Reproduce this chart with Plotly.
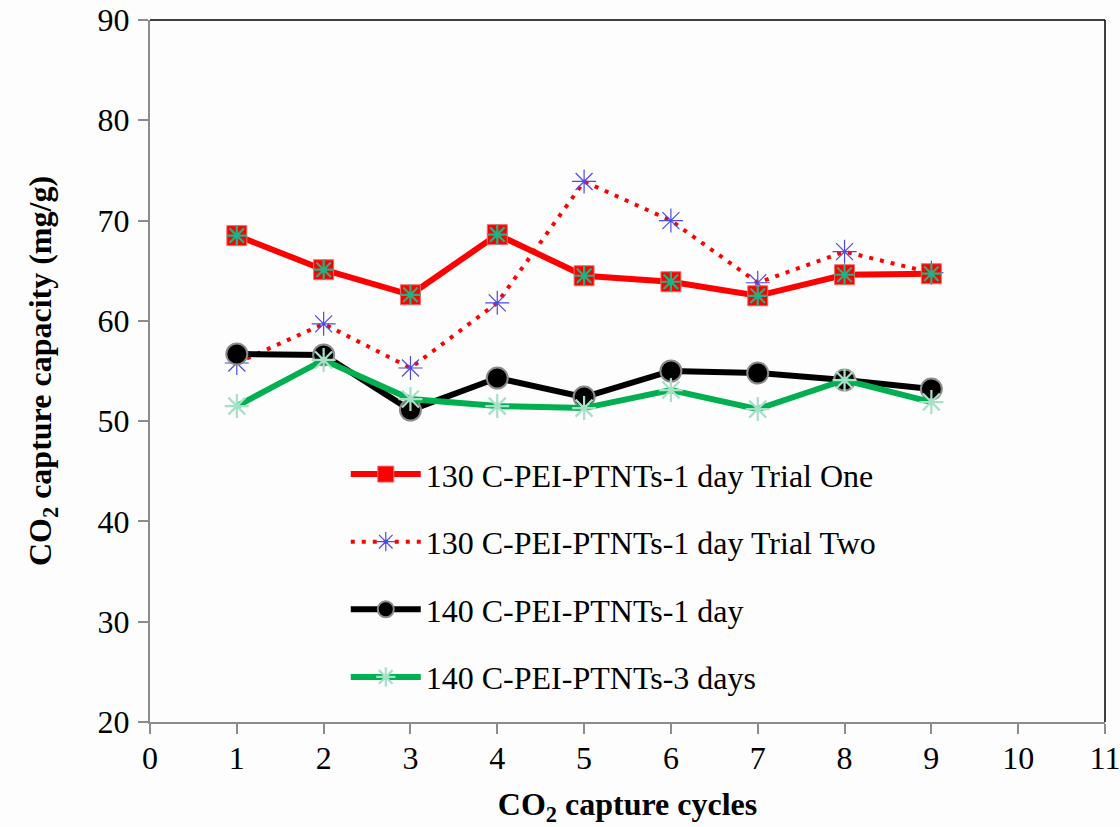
import plotly.graph_objects as go

cycles = [1, 2, 3, 4, 5, 6, 7, 8, 9]
trial_one = [68.5, 65.1, 62.6, 68.6, 64.5, 63.9, 62.5, 64.6, 64.7]
trial_two = [55.8, 59.7, 55.3, 61.8, 73.9, 70.0, 63.8, 66.9, 64.8]
c140_1day = [56.7, 56.6, 51.1, 54.3, 52.4, 55.0, 54.8, 54.1, 53.2]
c140_3days = [51.5, 56.1, 52.2, 51.5, 51.3, 53.1, 51.2, 54.1, 51.9]

names = ["130 C-PEI-PTNTs-1 day Trial One",
         "130 C-PEI-PTNTs-1 day Trial Two",
         "140 C-PEI-PTNTs-1 day",
         "140 C-PEI-PTNTs-3 days"]
x_ticks = list(range(0, 12))
y_ticks = list(range(20, 91, 10))

FONT = "Liberation Serif"
fig = go.Figure()

# Trial Two (dotted red line, blue asterisks)
fig.add_trace(go.Scatter(
    x=cycles, y=trial_two, name=names[1], mode="lines+markers",
    legendgroup="b", legendrank=2,
    line=dict(color="#ff0000", width=4, dash="4px,7px"),
    marker=dict(symbol="asterisk-open", size=20, color="#4a4ae8",
                line=dict(color="#4a4ae8", width=1.2)),
))
# Trial One (red line, red squares with teal asterisk)
fig.add_trace(go.Scatter(
    x=cycles, y=trial_one, name=names[0], mode="lines+markers",
    legendgroup="a", legendrank=1,
    line=dict(color="#ff0000", width=6),
    marker=dict(symbol="square", size=20, color="#ff0000",
                line=dict(color="#f07070", width=1)),
))
fig.add_trace(go.Scatter(
    x=cycles, y=trial_one, mode="markers", showlegend=False,
    legendgroup="a", hoverinfo="skip",
    marker=dict(symbol="asterisk-open", size=17, color="#1ab585",
                line=dict(color="#1ab585", width=2.2)),
))
# 140 1 day (black)
fig.add_trace(go.Scatter(
    x=cycles, y=c140_1day, name=names[2], mode="lines+markers",
    legendgroup="c", legendrank=3,
    line=dict(color="#000000", width=6),
    marker=dict(symbol="circle", size=21, color="#000000",
                line=dict(color="#8a8a8a", width=2)),
))
# 140 3 days (green)
fig.add_trace(go.Scatter(
    x=cycles, y=c140_3days, name=names[3], mode="lines+markers",
    legendgroup="d", legendrank=4,
    line=dict(color="#00b050", width=6),
    marker=dict(symbol="asterisk-open", size=20, color="#a6e0c6",
                line=dict(color="#a6e0c6", width=2.2)),
))

fig.update_layout(
    width=1120, height=827,
    margin=dict(l=150, r=15, t=20, b=105),
    paper_bgcolor="#fdfdfd", plot_bgcolor="#fdfdfd",
    font=dict(family=FONT, size=32, color="#000000"),
    showlegend=True,
    legend=dict(
        x=0.205, y=0.392, xanchor="left", yanchor="top",
        bgcolor="rgba(0,0,0,0)", font=dict(family=FONT, size=32),
        tracegroupgap=23, traceorder="grouped", itemwidth=70,
    ),
    xaxis=dict(
        range=[0, 11], tickvals=x_ticks, ticktext=[str(v) for v in x_ticks],
        showgrid=False, zeroline=False, automargin=False,
        showline=True, linecolor="#8c8c8c", linewidth=2,
        ticks="outside", ticklen=10, tickcolor="#8c8c8c", tickwidth=1.5,
        tickfont=dict(family=FONT, size=32), ticklabelstandoff=-3,
        ticklabeloverflow="allow",
        title=dict(text="<b>CO<sub>2</sub> capture cycles</b>",
                   font=dict(family=FONT, size=32), standoff=34),
    ),
    yaxis=dict(
        range=[20, 90], tickvals=y_ticks, ticktext=[str(v) for v in y_ticks],
        showgrid=False, zeroline=False, automargin=False,
        showline=True, linecolor="#8c8c8c", linewidth=2,
        ticks="outside", ticklen=10, tickcolor="#8c8c8c", tickwidth=1.5,
        tickfont=dict(family=FONT, size=32), ticklabelstandoff=2,
        title=dict(text="<b>CO<sub>2</sub> capture capacity (mg/g)</b>",
                   font=dict(family=FONT, size=32), standoff=36),
    ),
    shapes=[
        dict(type="line", xref="paper", yref="paper", x0=0, x1=1, y0=1, y1=1,
             line=dict(color="#000000", width=1.5)),
        dict(type="line", xref="paper", yref="paper", x0=1, x1=1, y0=0, y1=1,
             line=dict(color="#000000", width=1.5)),
    ],
)

fig.write_html("out.html")
